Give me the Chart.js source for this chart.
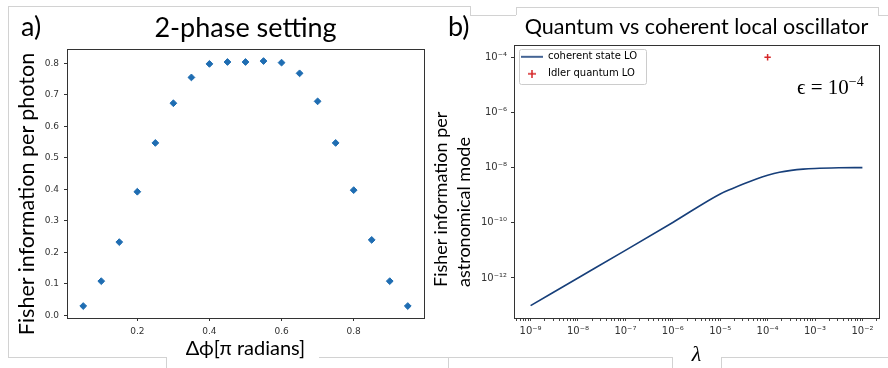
<!DOCTYPE html>
<html>
<head>
<meta charset="utf-8">
<script src="https://cdn.jsdelivr.net/npm/chart.js@4.4.1/dist/chart.umd.min.js"></script>
<style>
  html, body { margin: 0; padding: 0; background: #fff; }
  #page { position: relative; width: 888px; height: 368px; overflow: hidden; font-family: Lato, sans-serif; }
  canvas { position: absolute; top: 0; }
  #left { left: 0; }
  #right { left: 420px; }
  .frame { position: absolute; background: #d2d2d2; }
  .panel { position: absolute; font-size: 27px; line-height: 1; color: #000; }
  .ylab { position: absolute; transform: rotate(-90deg); color: #000; white-space: nowrap; }
  #eps { position: absolute; left: 797px; top: 74px; font-family: "Liberation Serif", "DejaVu Serif", serif; font-size: 21px; white-space: nowrap; }
  #eps sup { font-size: 14px; }
</style>
</head>
<body>
<div id="page">
  <canvas id="left" width="491" height="368"></canvas>
  <canvas id="right" width="553" height="368"></canvas>

  <div class="panel" style="left:21px; top:12px;">a)</div>
  <div class="panel" style="left:448px; top:12px;">b)</div>

  <div class="ylab" style="left:-124px; top:181px; width:300px; height:26px; line-height:26px; font-size:21.5px; text-align:center;">Fisher information per photon</div>
  <div class="ylab" style="left:342px; top:154px; width:220px; height:46px; line-height:23px; font-size:18px; text-align:left;">Fisher information per<br>astronomical mode</div>
  <div id="eps">ϵ = 10<sup>−4</sup></div>
</div>

<script>
// ---- panel a) 2-phase setting ----
const phaseShift = [0.05, 0.10, 0.15, 0.20, 0.25, 0.30, 0.35, 0.40, 0.45, 0.50,
                    0.55, 0.60, 0.65, 0.70, 0.75, 0.80, 0.85, 0.90, 0.95]
const fisherPerPhoton = [0.029, 0.108, 0.232, 0.392, 0.547, 0.673, 0.755, 0.798, 0.804, 0.804,
                         0.807, 0.802, 0.768, 0.679, 0.547, 0.397, 0.239, 0.108, 0.029]
const phaseTicks = [0.2, 0.4, 0.6, 0.8]
const phaseTickLabels = ["0.2", "0.4", "0.6", "0.8"]
const photonTicks = [0, 0.1, 0.2, 0.3, 0.4, 0.5, 0.6, 0.7, 0.8]
const photonTickLabels = ["0.0", "0.1", "0.2", "0.3", "0.4", "0.5", "0.6", "0.7", "0.8"]

// ---- panel b) quantum vs coherent LO ----
const lambdaCurve = [1e-9, 1e-8, 1e-7, 1e-6, 1e-5, 1.78e-5, 3.16e-5, 5.62e-5, 1e-4,
                     1.78e-4, 3.16e-4, 5.62e-4, 1e-3, 3.16e-3, 1e-2]
const fisherCoherent = [1.0e-13, 1.0e-12, 1.0e-11, 1.03e-10, 1.11e-9, 1.72e-9, 2.60e-9, 3.80e-9, 5.25e-9,
                        6.76e-9, 7.94e-9, 8.81e-9, 9.33e-9, 9.82e-9, 1.0e-8]
const idlerLambda = [1e-4]
const fisherIdler = [1e-4]
const lambdaTicks = [1e-9, 1e-8, 1e-7, 1e-6, 1e-5, 1e-4, 1e-3, 1e-2]
const lambdaTickLabels = ["10⁻⁹", "10⁻⁸", "10⁻⁷", "10⁻⁶", "10⁻⁵", "10⁻⁴", "10⁻³", "10⁻²"]
const modeTicks = [1e-12, 1e-10, 1e-8, 1e-6, 1e-4]
const modeTickLabels = ["10⁻¹²", "10⁻¹⁰", "10⁻⁸", "10⁻⁶", "10⁻⁴"]

const tickFont = { family: "DejaVu Sans", size: 9 }
const logTickFont = { family: "DejaVu Sans", size: 10 }
const tickColor = "#333"
const navy = "#173f7a"
const red = "#d62728"

// box around the plotting area (matplotlib style spines)
const plotFrame = {
  id: "plotFrame",
  afterDraw(chart) {
    const { ctx, chartArea: a } = chart
    ctx.save()
    ctx.strokeStyle = "#333"
    ctx.lineWidth = 1
    ctx.strokeRect(Math.round(a.left) + 0.5, Math.round(a.top) + 0.5,
                   Math.round(a.right - a.left), Math.round(a.bottom - a.top))
    ctx.restore()
  },
}

// legend inside the plot area, with a light rounded box behind it
const legendFrame = {
  id: "legendFrame",
  afterUpdate(chart) {
    const lg = chart.legend
    if (!lg) return
    const dy = chart.chartArea.top - lg.top
    lg.top += dy
    lg.bottom += dy
    lg.legendHitBoxes.forEach((h) => { h.top += dy })
  },
  beforeDraw(chart) {
    const boxes = chart.legend && chart.legend.legendHitBoxes
    if (!boxes || !boxes.length) return
    const ctx = chart.ctx
    const left = Math.min(...boxes.map((b) => b.left)) - 2
    const right = Math.max(...boxes.map((b) => b.left + b.width)) + 9
    const top = boxes[0].top - 3
    const last = boxes[boxes.length - 1]
    const bottom = last.top + last.height + 5
    ctx.save()
    ctx.beginPath()
    ctx.roundRect(Math.round(left) + 0.5, Math.round(top) + 0.5, Math.round(right - left), Math.round(bottom - top), 2)
    ctx.fillStyle = "#fff"
    ctx.fill()
    ctx.strokeStyle = "#cccccc"
    ctx.lineWidth = 1
    ctx.stroke()
    ctx.restore()
  },
}

function glyph(w, h, draw) {
  const c = document.createElement("canvas")
  c.width = w
  c.height = h
  draw(c.getContext("2d"))
  return c
}
const legendGlyphs = [
  glyph(22, 4, (g) => { g.fillStyle = navy; g.fillRect(0, 1.2, 22, 1.6) }),
  glyph(8, 8, (g) => { g.fillStyle = red; g.fillRect(3.25, 0, 1.5, 8); g.fillRect(0, 3.25, 8, 1.5) }),
]

// empty right-hand axis used as a spacer so the canvas is symmetric around the plot
function spacer(width) {
  return {
    position: "right",
    display: true,
    ticks: { display: false },
    grid: { display: false },
    border: { display: false },
    afterFit: (s) => { s.width = width },
  }
}

// left chart
new Chart(document.getElementById("left"), {
  type: "scatter",
  data: {
    datasets: [
      {
        label: "Fisher information per photon",
        data: phaseShift.map((x, i) => ({ x, y: fisherPerPhoton[i] })),
        pointStyle: "rectRot",
        pointRadius: 3.4,
        backgroundColor: "#1f6db2",
        borderColor: "#1f6db2",
        borderWidth: 1,
      },
    ],
  },
  options: {
    responsive: false,
    animation: false,
    devicePixelRatio: 1,
    layout: { padding: 0 },
    plugins: {
      legend: { display: false },
      tooltip: { enabled: false },
      title: {
        display: true,
        text: "2-phase setting",
        color: "#000",
        font: { family: "Lato", size: 27, weight: "normal" },
        padding: { top: 12, bottom: 5 },
      },
    },
    scales: {
      x: {
        type: "linear",
        min: 0.005,
        max: 0.995,
        afterBuildTicks: (s) => { s.ticks = phaseTicks.map((v) => ({ value: v })) },
        afterFit: (s) => { s.height = 50 },
        ticks: {
          callback: (v, i) => phaseTickLabels[i],
          font: tickFont, color: tickColor, padding: 5, maxRotation: 0, autoSkip: false,
        },
        grid: { drawOnChartArea: false, tickLength: 3, tickColor: "#333" },
        border: { display: false },
        title: {
          display: true,
          text: "Δϕ[π radians]",
          color: "#000",
          font: { family: "Lato", size: 20 },
          padding: { top: 0, bottom: 7 },
        },
      },
      y: {
        min: -0.009,
        max: 0.844,
        afterBuildTicks: (s) => { s.ticks = photonTicks.map((v) => ({ value: v })) },
        afterFit: (s) => { s.width = 67 },
        ticks: {
          callback: (v, i) => photonTickLabels[i],
          font: tickFont, color: tickColor, padding: 5, autoSkip: false,
        },
        grid: { drawOnChartArea: false, tickLength: 3, tickColor: "#333" },
        border: { display: false },
      },
      pad: spacer(67),
    },
  },
  plugins: [plotFrame],
})

// right chart
new Chart(document.getElementById("right"), {
  type: "scatter",
  data: {
    datasets: [
      {
        label: "coherent state LO",
        data: lambdaCurve.map((x, i) => ({ x, y: fisherCoherent[i] })),
        showLine: true,
        borderColor: navy,
        backgroundColor: navy,
        borderWidth: 1.6,
        pointRadius: 0,
        cubicInterpolationMode: "monotone",
      },
      {
        label: "Idler quantum LO",
        data: idlerLambda.map((x, i) => ({ x, y: fisherIdler[i] })),
        pointStyle: "cross",
        pointRadius: 3.2,
        borderColor: red,
        backgroundColor: red,
        borderWidth: 1.5,
      },
    ],
  },
  options: {
    responsive: false,
    animation: false,
    devicePixelRatio: 1,
    layout: { padding: 0 },
    plugins: {
      tooltip: { enabled: false },
      title: {
        display: true,
        text: "Quantum vs coherent local oscillator",
        color: "#000",
        font: { family: "Lato", size: 21.5, weight: "normal" },
        padding: { top: 14, bottom: 5 },
      },
      legend: {
        position: "chartArea",
        align: "start",
        labels: {
          usePointStyle: true,
          pointStyleWidth: 22,
          padding: 7,
          color: "#000",
          font: { family: "DejaVu Sans", size: 10 },
          generateLabels(chart) {
            const items = Chart.defaults.plugins.legend.labels.generateLabels(chart)
            items.forEach((item, i) => {
              item.pointStyle = legendGlyphs[i]
              item.rotation = 0
            })
            return items
          },
        },
      },
    },
    scales: {
      x: {
        type: "logarithmic",
        min: Math.pow(10, -9.35),
        max: Math.pow(10, -1.65),
        afterBuildTicks: (s) => {
          const ticks = []
          for (let d = -10; d <= -2; d++) {
            for (let m = 1; m <= 9; m++) {
              const v = m * Math.pow(10, d)
              if (v < s.min || v > s.max) continue
              const k = lambdaTicks.findIndex((t) => Math.abs(t - v) / t < 1e-9)
              ticks.push(k >= 0 ? { value: lambdaTicks[k], major: true } : { value: v })
            }
          }
          s.ticks = ticks
        },
        afterFit: (s) => { s.height = 50 },
        ticks: {
          callback: (v) => {
            const k = lambdaTicks.indexOf(v)
            return k >= 0 ? lambdaTickLabels[k] : ""
          },
          font: logTickFont, color: tickColor, padding: 4, maxRotation: 0, autoSkip: false,
        },
        grid: { drawOnChartArea: false, tickLength: 3, tickColor: "#333", tickWidth: 0.9 },
        border: { display: false },
        title: {
          display: true,
          text: "λ",
          color: "#000",
          font: { family: "Liberation Serif", size: 22, style: "italic" },
          padding: { top: 0, bottom: 0 },
        },
      },
      y: {
        type: "logarithmic",
        min: Math.pow(10, -13.45),
        max: Math.pow(10, -3.55),
        afterBuildTicks: (s) => { s.ticks = modeTicks.map((v) => ({ value: v })) },
        afterFit: (s) => { s.width = 94 },
        ticks: {
          callback: (v, i) => modeTickLabels[i],
          font: logTickFont, color: tickColor, padding: 4, autoSkip: false,
        },
        grid: { drawOnChartArea: false, tickLength: 3, tickColor: "#333" },
        border: { display: false },
      },
      pad: spacer(94),
    },
  },
  plugins: [legendFrame, plotFrame],
})

// light grey outlines of the pasted figure panels
const frameLines = [
  [8, 6, 462, 1], [470, 6, 1, 9], [470, 15, 46, 1], [516, 7, 1, 8], [516, 7, 362, 1],
  [878, 7, 1, 8], [878, 15, 10, 1], [8, 6, 1, 352],
  [8, 357, 158, 1], [166, 357, 1, 11], [319, 357, 353, 1], [448, 357, 1, 11],
  [672, 357, 1, 11], [721, 357, 167, 1], [721, 357, 1, 11],
]
const page = document.getElementById("page")
frameLines.forEach(([x, y, w, h]) => {
  const d = document.createElement("div")
  d.className = "frame"
  d.style.cssText = `left:${x}px;top:${y}px;width:${w}px;height:${h}px;`
  page.insertBefore(d, page.firstChild)
})
</script>
</body>
</html>
